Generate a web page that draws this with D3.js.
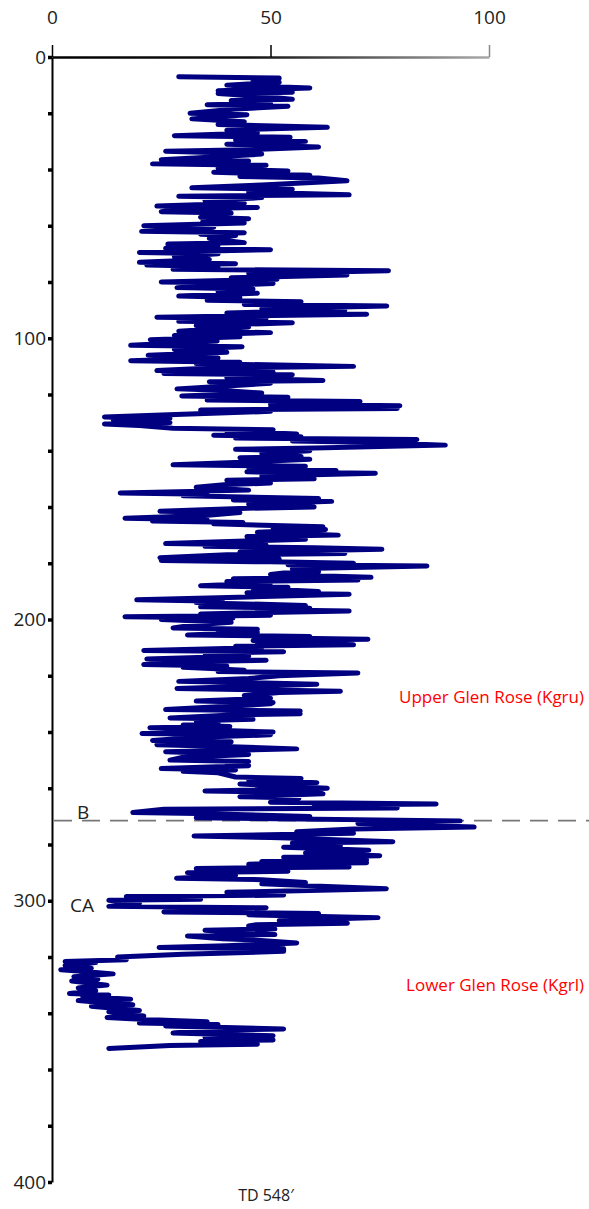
<html>
<head>
<script src="https://d3js.org/d3.v7.min.js"></script>
<style>
body { margin: 0; background: #fff; }
svg { display: block; font-family: 'Open Sans', 'DejaVu Sans', sans-serif; }
</style>
</head>
<body>
<svg width="589" height="1209"></svg>
<script>
// top axis ticks and depth axis ticks
var xTicks = [0, 50, 100];
var depthTicks = [0, 20, 40, 60, 80, 100, 120, 140, 160, 180, 200, 220, 240, 260, 280, 300, 320, 340, 360, 380, 400];

// log trace, [depth, reading]
var logPoints = [
[7,29],[7.5,52],[8.5,46],[9,52],[10,40],[11,59],[12,38],[12.5,55],[13,38],[14,48],[15,55],[15.5,41],[16.5,50],[17,35.5],[17.5,54],
[18.5,42],[20,31.6],[20.5,44.6],[22,32],[23,44],[24,38],[25,63],[26,40],[27,47],[28,28],[28.5,54.5],[29.5,42],[30,58],[31,40],[32,61],
[33,45],[33.5,26],[34.5,48],[35.5,38],[36.5,25],[37,45],[38,23],[38.5,49],[39.5,38],[40,41],[40.5,54],[41,37],[42,59],[42.5,43],[43,61],
[44,67.5],[45.5,48],[46.5,32],[47,55],[48,45],[49,68],[49.5,29],[50,48],[51,35],[52,44],[53,24],[53.5,47],[54,30],[55,25],[55.5,41],
[56,36],[57,34],[57.5,45],[58.5,34.5],[59,44],[60,21],[60.5,37],[61.5,30],[62,20.5],[62.5,44],[63,34],[63.5,42],[64.5,36],[65,38],[66,44],
[66.5,26.5],[67,38],[68,26],[68.5,50],[69.5,20],[70,38],[71,28],[72,36],[73,20],[73.5,42],[74,21.7],[74.5,38],[75.5,27.7],[76,77],[77,45],
[77.5,67.5],[78.5,41],[79,51.5],[80,25],[80.5,50.6],[81.5,35],[82,28.6],[82.5,46],[83.5,38],[84,47],[85,29],[85.5,43],[86.5,35.5],[87,57],[88,44],
[88.5,76.6],[89.5,48],[90,67],[91,40],[91.5,72],[92.5,24],[93,49],[94,29],[94.5,55],[95.5,33],[96,45],[97.5,29],[98,50],[99,28],[99.5,43],
[100.5,22.5],[101,37.8],[102.5,18],[103,43.5],[104,28],[105,40],[106,22],[107,38],[108,18],[108.5,43],[109,33],[110,69],[110.5,38],[111.5,24],[112,50.6],
[112.5,25.6],[113,55],[114,40],[115,62],[115.5,36],[116,50],[117,40],[118,28.6],[118.5,38.4],[119.5,48],[120.5,29.7],[121,54],[122,35.5],[122.5,70.5],[123.5,50],
[124,79.6],[124.5,50],[125,79],[125.5,34],[126,50],[127,30],[128,12],[128.5,27],[129,14],[130,27],[130.5,12],[131,20],[132,27.7],[132.5,50.6],[133,40],
[134,56],[134.5,37],[135,57],[135.5,42],[136,83.5],[136.5,55],[137,72],[138,90],[139,60],[139.5,42],[140,59],[141,48],[142,57],[142.5,43],[143,59],
[144,45],[145,27.7],[145.5,58],[146,45],[147,65],[147.5,44.6],[148,74],[149,48],[150,60],[150.5,40],[151.5,50],[152,40],[153,33],[154,45],[155,15.6],
[155.5,35.5],[156,30],[157,61],[157.5,41.5],[158,64],[159,45],[160,60],[160.5,43],[161.5,24.7],[162,43],[163,35],[164,16.7],[164.5,35.5],[165,23],[165.5,43.7],
[166,37],[167,62],[167.5,50.6],[168,62.6],[169,47],[170,65.5],[170.5,44.6],[171.5,58],[172,46],[173,26],[173.5,49],[174,35],[174.5,60],[175,75.5],[176,43],
[176.5,67],[177,40],[178,24.7],[178.5,52],[179,25],[179.5,50],[180,69],[180.5,54],[181,85.8],[182,55],[183,61],[183.5,53],[184,50],[185,73],[185.5,41.5],
[186,70],[186.5,40],[187,50],[188,34],[188.5,54],[189,46],[190,61],[190.5,44.6],[191,68],[192,45],[193,19.4],[193.5,39],[194,33],[195,58],[195.5,34],
[196,59],[196.5,48],[197,68],[198,34],[198.5,50],[199,16.7],[199.5,41.4],[200,25],[201,41],[202,32],[203,27.7],[203.5,47],[204,38],[204.5,47],[205.5,31],
[206,59],[206.5,48],[207,72.3],[207.5,46],[208,50],[209,69],[209.5,42],[210,48],[211,21],[211.5,53],[212,35],[213,45],[214,21.7],[214.5,49],[215,30],
[216,21],[216.5,40],[217,30],[218,44],[218.5,38],[219,70],[220,52],[221,45],[222,29],[222.5,46],[223,60.6],[224,40],[224.5,28.6],[225,46],[225.5,66],
[226,52],[227,44],[228,50],[229,33],[229.5,50.6],[230,50],[231,38],[232,26],[232.5,56.8],[233,42],[233.5,56.8],[234,40],[235,27],[235.5,46],[236,33],
[237,38],[237.5,30],[238,40.7],[238.5,22.4],[239,30],[240,50.6],[240.5,20.6],[241,50],[242,32],[243,23],[243.5,41],[244.5,24],[245,35.5],[246,56],[247,26],
[248,45],[249,30],[250,27],[250.5,45],[251,40],[252,45],[253,25],[253.5,42],[254,30],[254.5,38],[256,42],[256.5,57],[257,45],[258,60.6],[258.5,43],
[260,63],[261,35],[261.5,61],[262,62],[263,43],[263.5,56.5],[265,50],[265.6,87.9],[266,60],[267,79],[267.5,25.6],[268.6,18.5],[269,33.3],[270,59],[270.5,33],
[271.6,93.4],[272.5,70],[273.8,96.6],[274.5,69],[275.5,56],[276,69],[277,32.5],[277.5,50],[278,60],[279,78],[279.5,55],[280.5,66],[281,53],[282,72.5],[283,58],
[284,75],[284.5,53],[285.5,72],[286,48],[286.5,72],[287,45],[288,68],[288.5,33],[289.5,54],[290,31],[291,42],[292,28.5],[292.5,48],[293.5,58],[294,48],
[295.7,76.5],[297,40],[298,53],[298.5,17],[299.5,34],[299.8,13],[301,20],[302,13],[302.5,49],[303,30],[304,25.6],[304.5,61],[305,45],[306,74.6],[307,52],
[308,67.6],[308.5,46.8],[309,45],[310,51],[310.5,35],[311,40],[312,51],[312.5,31],[313.5,39],[314,47],[315,56],[316,40],[316.6,24.5],[317,53],[318,53],
[319,30],[320,15],[321,17],[321.6,3],[322,10],[323,3],[324,9],[324.5,2],[325,6],[326,14],[327,5],[328,10.5],[328.5,4.5],[330,12.6],[330.5,8.7],
[331,6],[332,10],[333,4],[333.5,13],[334,7],[335,18],[335.5,6],[336,10],[337,18.5],[337.5,9],[339,20],[339.5,13],[340,15],[341,21],[341.5,12.6],
[342,18],[343,35.5],[343.5,20],[344,38],[344.5,26],[345.6,53],[346,35],[347,27.7],[348,50.6],[348.5,35],[349.5,50.6],[350,34],[351,47],[351.5,27],[352.5,13]
];

// marker line + notes
var markerDepth = 271.5;
var markerLabels = [{text: "B", depth: 268.5}, {text: "CA", depth: 301.5}];
var unitLabels = [{text: "Upper Glen Rose (Kgru)", depth: 227.5}, {text: "Lower Glen Rose (Kgrl)", depth: 330}];
var tdLabel = "TD 548\u2032";

var svg = d3.select("svg");

var x = d3.scaleLinear().domain([0, 100]).range([52, 489]);
var y = d3.scaleLinear().domain([0, 400]).range([57, 1182]);

// gradient for the top axis line, it fades out to the right
var grad = svg.append("defs").append("linearGradient").attr("id", "fade")
  .attr("gradientUnits", "userSpaceOnUse")
  .attr("x1", x(0)).attr("x2", x(100)).attr("y1", 0).attr("y2", 0);
grad.append("stop").attr("offset", "0%").attr("stop-color", "#000");
grad.append("stop").attr("offset", "45%").attr("stop-color", "#111");
grad.append("stop").attr("offset", "100%").attr("stop-color", "#aaa");

var xAxis = d3.axisTop(x).tickValues(xTicks).tickSize(12).tickPadding(21).tickSizeOuter(0);
var gx = svg.append("g").attr("transform", "translate(0," + y(0) + ")").call(xAxis);
gx.select(".domain").attr("stroke", "url(#fade)").attr("stroke-width", 2.5);
gx.selectAll(".tick line").attr("stroke", "#000").attr("stroke-width", 1.5);
gx.selectAll(".tick text").attr("font-size", 19).attr("fill", "#222")
  .attr("font-family", "'Open Sans', sans-serif");
gx.select(".tick:last-of-type line").attr("stroke", "#888");

var yAxis = d3.axisLeft(y).tickValues(depthTicks)
  .tickFormat(function(d) { return d % 100 === 0 ? d : ""; })
  .tickSize(4).tickPadding(2).tickSizeOuter(0);
var gy = svg.append("g").attr("transform", "translate(" + x(0) + ",0)").call(yAxis);
gy.select(".domain").attr("stroke", "#000").attr("stroke-width", 2);
gy.selectAll(".tick line").attr("stroke", "#000").attr("stroke-width", 3.5);
gy.selectAll(".tick text").attr("font-size", 19).attr("fill", "#222")
  .attr("font-family", "'Open Sans', sans-serif");

// dashed marker
svg.append("line")
  .attr("x1", x(0) + 2).attr("x2", 589)
  .attr("y1", y(markerDepth)).attr("y2", y(markerDepth))
  .attr("stroke", "#777").attr("stroke-width", 1.8)
  .attr("stroke-dasharray", "18,10");

// trace
var line = d3.line()
  .x(function(d) { return x(d[1]); })
  .y(function(d) { return y(d[0]); });

svg.append("path")
  .datum(logPoints)
  .attr("d", line)
  .attr("fill", "none")
  .attr("stroke", "#000080")
  .attr("stroke-width", 5)
  .attr("stroke-linejoin", "round")
  .attr("stroke-linecap", "round");

svg.selectAll("text.mark").data(markerLabels).enter().append("text")
  .attr("class", "mark")
  .attr("x", function(d, i) { return i === 0 ? 77 : 70; })
  .attr("y", function(d) { return y(d.depth) + 7; })
  .attr("font-size", 19).attr("fill", "#222")
  .text(function(d) { return d.text; });

svg.selectAll("text.unit").data(unitLabels).enter().append("text")
  .attr("class", "unit")
  .attr("x", 584).attr("text-anchor", "end")
  .attr("y", function(d) { return y(d.depth) + 6; })
  .attr("font-size", 17).attr("fill", "#ff0000")
  .text(function(d) { return d.text; });

svg.append("text")
  .attr("x", 266).attr("y", 1201).attr("text-anchor", "middle")
  .attr("font-size", 16).attr("fill", "#222")
  .text(tdLabel);
</script>
</body>
</html>
